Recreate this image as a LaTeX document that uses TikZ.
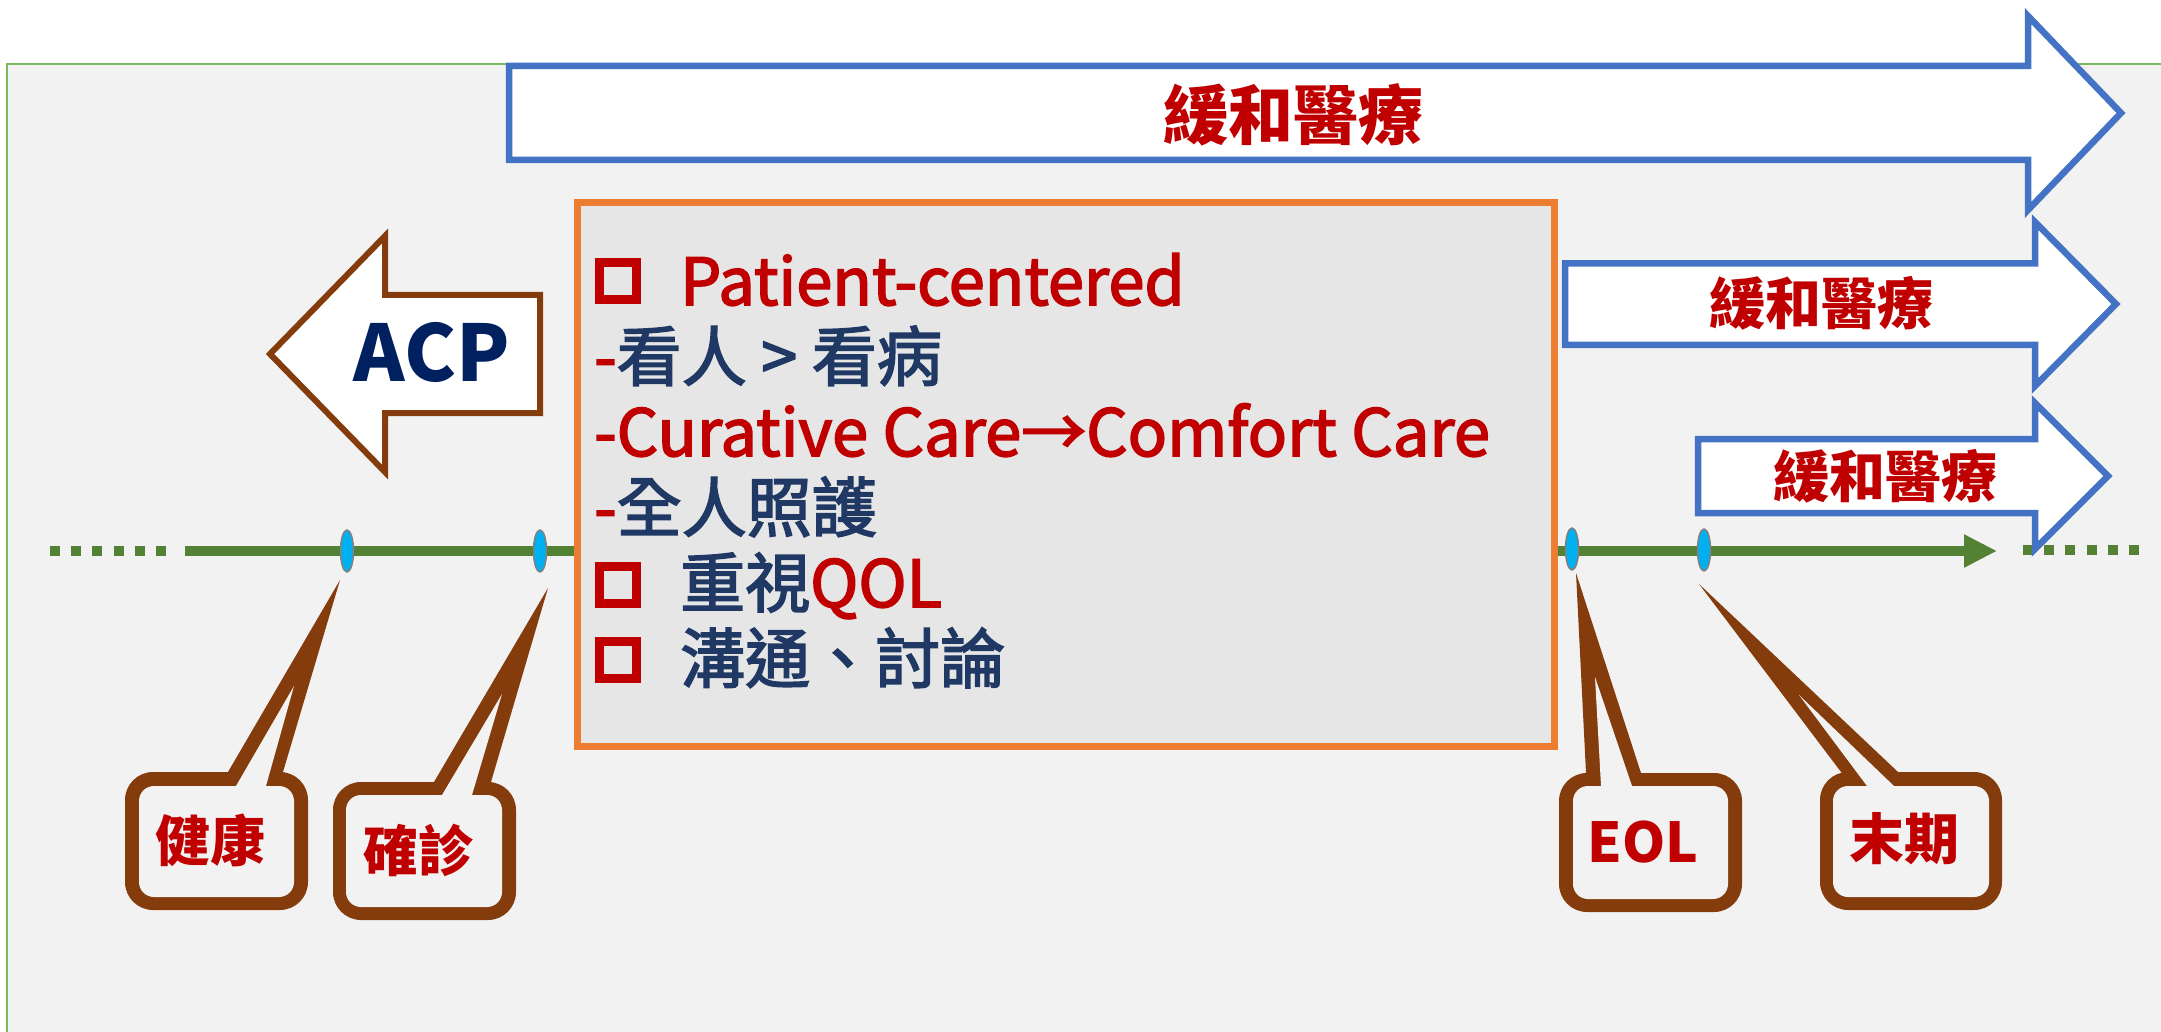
\documentclass[tikz,border=0pt]{standalone}
\usepackage{fontspec}
\setmainfont{Noto Sans CJK TC}
\newfontfamily\boxfont{Noto Sans CJK TC}[FakeBold=2.5]
\usetikzlibrary{shapes.geometric,arrows.meta,calc}
\definecolor{panelgray}{HTML}{F2F2F2}
\definecolor{panelgreen}{HTML}{7DBA5C}
\definecolor{arrowblue}{HTML}{4472C4}
\definecolor{darkred}{HTML}{C00000}
\definecolor{acpnavy}{HTML}{002060}
\definecolor{textnavy}{HTML}{1F3864}
\definecolor{calloutbrown}{HTML}{843C0C}
\definecolor{boxorange}{HTML}{ED7D31}
\definecolor{boxgray}{HTML}{E6E6E6}
\definecolor{tlgreen}{HTML}{548235}
\definecolor{markcyan}{HTML}{00B0F0}
\tikzset{
  bluearrow/.style={draw=arrowblue, line width=6.5pt, fill=white, line join=miter},
  acparrow/.style={draw=calloutbrown, line width=6pt, fill=white, line join=miter},
  bigpal/.style={font=\fontsize{65}{70}\selectfont\bfseries, text=darkred, inner sep=0pt},
  smallpal/.style={font=\fontsize{56}{60}\selectfont\bfseries, text=darkred, inner sep=0pt},
  calltext/.style={font=\fontsize{55}{60}\selectfont\bfseries, text=darkred, inner sep=0pt},
  boxtext/.style={font=\fontsize{65}{76}\selectfont\boxfont, text=textnavy, inner sep=0pt, anchor=base west},
  bulletbox/.style={draw=darkred, line width=9pt, minimum size=37pt, inner sep=0pt},
  marker/.style={ellipse, fill=markcyan, draw=gray, line width=1.5pt, minimum width=13pt, minimum height=42pt, inner sep=0pt},
  tline/.style={draw=tlgreen, line width=10.5pt},
  tdots/.style={draw=tlgreen, line width=10.5pt, dash pattern=on 10pt off 11.2pt},
}
\begin{document}
\begin{tikzpicture}[x=1pt,y=-1pt]
\useasboundingbox (0,0) rectangle (2161,1032);
\fill[white] (0,0) rectangle (2161,1032);
% panel
\fill[panelgray] (7,64) rectangle (2161,1032);
\draw[panelgreen, line width=2pt] (7,1032) -- (7,64) -- (2161,64);

% big palliative arrow
\draw[bluearrow] (509,66) -- (2028,66) -- (2028,16) -- (2121,113) -- (2028,210) -- (2028,160) -- (509,160) -- cycle;
\node[bigpal] (pal1) at (1293,115) {緩和醫療};

% timeline
\coordinate (tlA) at (50,551);
\coordinate (tlB) at (172,551);
\coordinate (tlC) at (185,551);
\coordinate (tlD) at (1997,551);
\coordinate (tlE) at (2023,550);
\coordinate (tlF) at (2145,550);
\draw[tdots] (tlA) -- (tlB);
\draw[tline, -{Triangle[length=33pt,width=31pt]}] (tlC) -- (tlD);
\draw[tdots] (tlE) -- (tlF);

% middle arrows
\draw[bluearrow] (1565,263.5) -- (2035,263.5) -- (2035,222) -- (2116,304) -- (2035,386) -- (2035,345) -- (1565,345) -- cycle;
\node[smallpal] (pal2) at (1821,303) {緩和醫療};
\draw[bluearrow] (1698,439) -- (2035,439) -- (2035,403) -- (2108,476) -- (2035,549) -- (2035,513) -- (1698,513) -- cycle;
\node[smallpal] (pal3) at (1885,476) {緩和醫療};

% markers
\node[marker] (m1) at (347,551) {};
\node[marker] (m2) at (540,551) {};
\node[marker] (m3) at (1572,549) {};
\node[marker] (m4) at (1704,550) {};

% orange box
\node[draw=boxorange, fill=boxgray, line width=7pt, minimum width=977pt, minimum height=544pt, inner sep=0pt, anchor=north west] (box) at (574,199) {};
\node[bulletbox] (b1) at (618,281) {};
\node[boxtext, text=darkred] (l1) at (680,305) {Patient-centered};
\node[boxtext] (l2) at (594,380.5) {\textcolor{darkred}{-}看人 > 看病};
\node[boxtext, text=darkred] (l3) at (594,456) {-Curative Care→Comfort Care};
\node[boxtext] (l4) at (594,531.5) {\textcolor{darkred}{-}全人照護};
\node[bulletbox] (b2) at (618,585) {};
\node[boxtext] (l5) at (680,607) {重視\textcolor{darkred}{QOL}};
\node[bulletbox] (b3) at (618,660) {};
\node[boxtext] (l6) at (680,682.5) {溝通、討論};

% ACP arrow
\draw[acparrow] (540,295) -- (385,295) -- (385,236) -- (270,354) -- (385,472) -- (385,413) -- (540,413) -- cycle;
\node[font=\fontsize{78}{80}\selectfont\bfseries, text=acpnavy, inner sep=0pt] (acp) at (432,352) {ACP};

% callout 健康
\fill[calloutbrown, rounded corners=28pt] (125,772) rectangle (308,910);
\fill[calloutbrown] (340,580) -- ($(340,580)!1.15!(228,772)$) -- ($(340,580)!1.15!(283,772)$) -- cycle;
\fill[panelgray, rounded corners=15pt] (139,786) rectangle (294,897);
\fill[panelgray] (294,686) -- ($(294,686)!1.15!(236,786)$) -- ($(294,686)!1.15!(266,786)$) -- cycle;
\node[calltext] (c1) at (210,840) {健康};

% callout 確診
\fill[calloutbrown, rounded corners=28pt] (333,782) rectangle (516,920);
\fill[calloutbrown] (548,588) -- ($(548,588)!1.15!(434,782)$) -- ($(548,588)!1.15!(491,782)$) -- cycle;
\fill[panelgray, rounded corners=15pt] (346,795) rectangle (502,907);
\fill[panelgray] (502,694) -- ($(502,694)!1.15!(442,795)$) -- ($(502,694)!1.15!(472,795)$) -- cycle;
\node[calltext] (c2) at (418,850) {確診};

% callout EOL
\fill[calloutbrown, rounded corners=28pt] (1559,773) rectangle (1742,912);
\fill[calloutbrown] (1576,573) -- ($(1576,573)!1.15!(1586,773)$) -- ($(1576,573)!1.15!(1641,773)$) -- cycle;
\fill[panelgray, rounded corners=15pt] (1573,786) rectangle (1728,899);
\fill[panelgray] (1595,677) -- ($(1595,677)!1.15!(1601,786)$) -- ($(1595,677)!1.15!(1632,786)$) -- cycle;
\node[calltext] (c3) at (1643,842) {EOL};

% callout 末期
\fill[calloutbrown, rounded corners=28pt] (1820,772) rectangle (2002,910);
\fill[calloutbrown] (1699,584) -- ($(1699,584)!1.15!(1841,772)$) -- ($(1699,584)!1.15!(1898,772)$) -- cycle;
\fill[panelgray, rounded corners=15pt] (1833,786) rectangle (1989,897);
\fill[panelgray] (1799,695) -- ($(1799,695)!1.15!(1867,786)$) -- ($(1799,695)!1.15!(1894,786)$) -- cycle;
\node[calltext] (c4) at (1904,839) {末期};
\end{tikzpicture}
\end{document}
